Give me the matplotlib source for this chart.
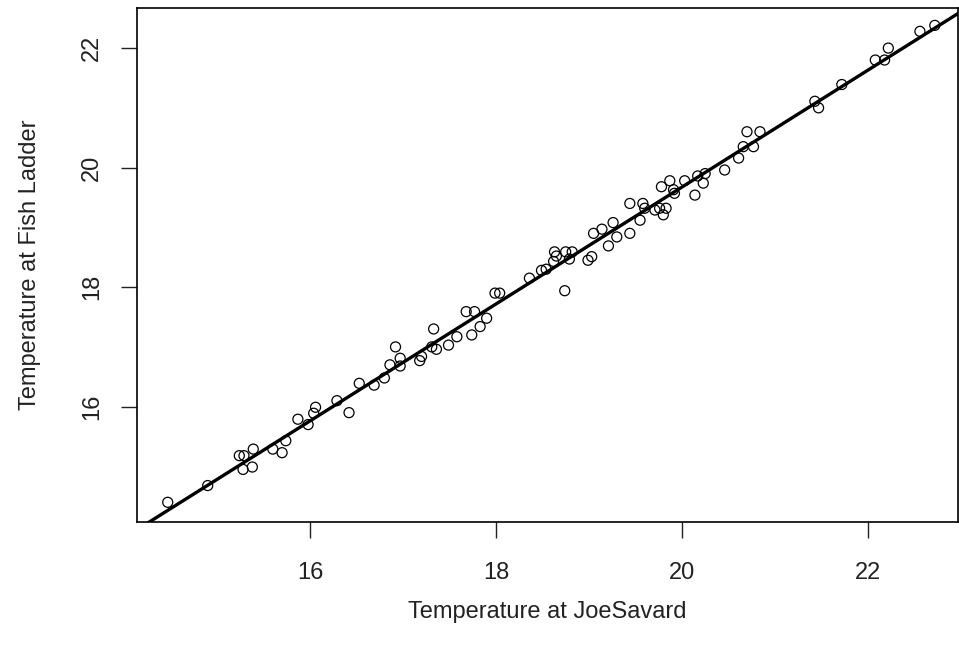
import numpy as np
import matplotlib
matplotlib.use("Agg")
import matplotlib.pyplot as plt

plt.rcParams['font.family'] = ['Liberation Sans', 'DejaVu Sans']

# Daily water temperature at the two stations
joe_savard = [
    14.47, 14.90, 15.24, 15.29, 15.39, 15.28, 15.38, 15.60, 15.70, 15.74,
    15.87, 15.98, 16.06, 16.04, 16.29, 16.42, 16.53, 16.69, 16.80, 16.86,
    16.92, 16.97, 16.97, 17.18, 17.20, 17.33, 17.31, 17.36, 17.49, 17.58,
    17.68, 17.77, 17.74, 17.83, 17.90, 17.99, 18.04, 18.36, 18.49, 18.54,
    18.62, 18.63, 18.65, 18.75, 18.82, 18.79, 18.74, 18.99, 19.03, 19.05,
    19.14, 19.21, 19.26, 19.30, 19.44, 19.44, 19.55, 19.58, 19.60, 19.71,
    19.76, 19.80, 19.83, 19.78, 19.87, 19.91, 19.92, 20.03, 20.14, 20.17,
    20.23, 20.25, 20.46, 20.61, 20.66, 20.70, 20.77, 20.84, 21.47, 21.43,
    21.72, 22.08, 22.18, 22.22, 22.56, 22.72,
]
fish_ladder = [
    14.40, 14.68, 15.18, 15.18, 15.29, 14.95, 14.99, 15.29, 15.23, 15.43,
    15.79, 15.70, 15.99, 15.89, 16.10, 15.90, 16.39, 16.36, 16.48, 16.70,
    17.00, 16.81, 16.68, 16.77, 16.84, 17.30, 17.00, 16.96, 17.03, 17.17,
    17.59, 17.59, 17.20, 17.34, 17.48, 17.90, 17.90, 18.15, 18.28, 18.30,
    18.43, 18.59, 18.52, 18.59, 18.59, 18.47, 17.94, 18.45, 18.51, 18.90,
    18.97, 18.69, 19.08, 18.84, 18.90, 19.40, 19.12, 19.40, 19.32, 19.29,
    19.32, 19.21, 19.32, 19.68, 19.78, 19.63, 19.57, 19.78, 19.54, 19.86,
    19.74, 19.90, 19.96, 20.16, 20.35, 20.60, 20.35, 20.60, 21.00, 21.11,
    21.39, 21.80, 21.80, 22.00, 22.28, 22.38,
]
tick_values = [16, 18, 20, 22]

x = np.array(joe_savard)
y = np.array(fish_ladder)

# least-squares fit of Fish Ladder on JoeSavard
slope, intercept = np.polyfit(x, y, 1)

fig = plt.figure(figsize=(9.59, 6.53), dpi=100)
ax = fig.add_axes([0.1429, 0.2006, 0.8561, 0.7871])

ax.scatter(x, y, s=52, facecolors='none', edgecolors='black', linewidths=0.9, zorder=2)

xlim = (14.14, 22.97)
ax.set_xlim(xlim)
ax.set_ylim(14.07, 22.67)
line_x = np.array([xlim[0] - 1, xlim[1] + 1])
ax.plot(line_x, intercept + slope * line_x, color='black', linewidth=2.4, zorder=3)

ax.set_xticks(tick_values)
ax.set_yticks(tick_values)
ax.tick_params(direction='out', length=11.5, width=1, labelsize=17, colors='#222222')
ax.tick_params(axis='x', pad=17.5)
ax.tick_params(axis='y', pad=13)
for lab in ax.get_yticklabels():
    lab.set_rotation(90)
    lab.set_va('center')

for s in ax.spines.values():
    s.set_linewidth(1.2)

ax.set_xlabel('Temperature at JoeSavard', fontsize=17, color='#222222')
ax.set_ylabel('Temperature at Fish Ladder', fontsize=17, color='#222222')
ax.xaxis.set_label_coords(0.5, -0.1751)
ax.xaxis.label.set_va('center')
ax.yaxis.set_label_coords(-0.1303, 0.5)
ax.yaxis.label.set_rotation_mode('default')
ax.yaxis.label.set_va('center')
ax.yaxis.label.set_ha('center')

fig.savefig('out.png', dpi=100)
